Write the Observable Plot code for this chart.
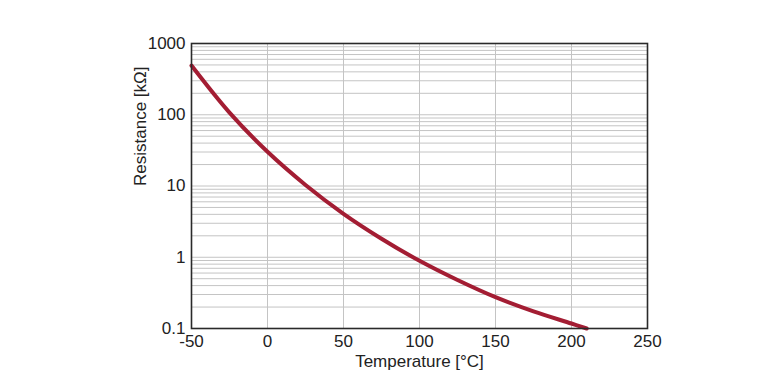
<!DOCTYPE html>
<html>
<head>
<meta charset="utf-8">
<script src="https://cdn.jsdelivr.net/npm/d3@7"></script>
<script src="https://cdn.jsdelivr.net/npm/@observablehq/plot@0.6"></script>
<style>
  html, body { margin: 0; padding: 0; background: #fff; }
  #chart svg { display: block; }
</style>
</head>
<body>
<div id="chart"></div>
<script>
// Temperature (°C) and resistance (kΩ)
const temperature = [-50, -25, 0, 25, 50, 75, 100, 125, 150, 175, 200, 210];
const resistance  = [490, 107, 30.2, 10.35, 4.07, 1.82, 0.891, 0.479, 0.275, 0.174, 0.1175, 0.1];

const xTicks = [-50, 0, 50, 100, 150, 200, 250];
const xGrid = [0, 50, 100, 150, 200];
const yTicks = [0.1, 1, 10, 100, 1000];
const yTickLabels = ["0.1", "1", "10", "100", "1000"];
const xLabel = "Temperature [°C]";
const yLabel = "Resistance [kΩ]";

const data = temperature.map((t, i) => ({t, r: resistance[i]}));

// minor log grid lines: 1..9 × each decade
const yGrid = [];
for (let e = -1; e < 3; e++) for (let m = 1; m <= 9; m++) yGrid.push(+(m * Math.pow(10, e)).toPrecision(3));
yGrid.push(1000);

const chart = Plot.plot({
  width: 780,
  height: 390,
  marginLeft: 191,
  marginRight: 133,
  marginTop: 43,
  marginBottom: 62,
  style: {fontFamily: "'Liberation Sans', Arial, sans-serif", fontSize: "17px", color: "#222", background: "#fff"},
  x: {domain: [-50, 250]},
  y: {type: "log", domain: [0.1, 1000]},
  marks: [
    Plot.ruleY(yGrid, {stroke: "#c4c4c4", strokeWidth: 1}),
    Plot.ruleX(xGrid, {stroke: "#c4c4c4", strokeWidth: 1}),
    Plot.line(data, {x: "t", y: "r", stroke: "#a31d33", strokeWidth: 4, curve: "catmull-rom"}),
    Plot.frame({stroke: "#2a2a2a", strokeWidth: 1.6}),
    Plot.axisX(xTicks, {tickSize: 0, tickPadding: 6, fontSize: 17, label: null, tickFormat: d => String(d)}),
    Plot.axisY(yTicks, {tickSize: 0, tickPadding: 6, fontSize: 17, label: null,
      tickFormat: d => yTickLabels[yTicks.indexOf(d)]}),
    Plot.text([xLabel], {frameAnchor: "bottom", dy: 38, text: d => d, fontSize: 17, fill: "#222"}),
    Plot.text([yLabel], {frameAnchor: "left", dx: -51, rotate: -90, text: d => d, fontSize: 17, fill: "#222"})
  ]
});
document.getElementById("chart").appendChild(chart);
</script>
</body>
</html>
